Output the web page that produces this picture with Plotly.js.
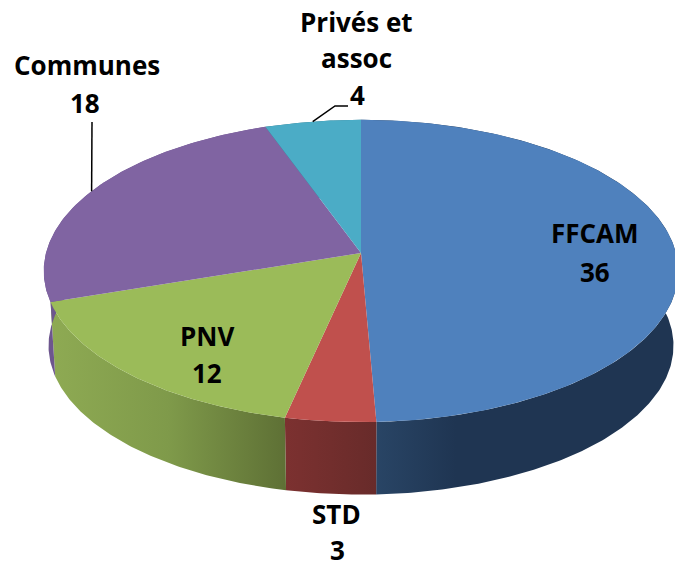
<!DOCTYPE html>
<html>
<head>
<meta charset="utf-8">
<script src="https://cdn.plot.ly/plotly-3.0.0.min.js"></script>
<style>html,body{margin:0;padding:0;background:#fff}#c{width:675px;height:568px}</style>
</head>
<body>
<div id="c"></div>
<script>
// Data, clockwise from 12 o'clock
const categories = ['FFCAM', 'STD', 'PNV', 'Communes', 'Privés et assoc'];
const values = [36, 3, 12, 18, 4];
const nameLines = [['FFCAM'], ['STD'], ['PNV'], ['Communes'], ['Privés et', 'assoc']];

// Colours
const topColors = ['#4F81BD', '#C0504D', '#9BBB59', '#8064A2', '#4BACC6'];
const sideGradients = [
  [[0, '#2B4869'], [0.3, '#1F3552'], [1, '#1F3552']],
  [[0, '#7C3130'], [1, '#682B2A']],
  [[0, '#8EAA53'], [0.5, '#7F9A4A'], [1, '#5E7035']],
  [[0, '#6D568E'], [1, '#6D568E']],
  [[0, '#2F7488'], [1, '#2F7488']]
];

// Projection of the tilted disc
const CX = 361, CY = 253, RX = 315, RY = 149, PERSP = 0.119;
const DEPTH_CY = 328, DEPTH_SCALE = 0.985;
const top3d = a => {
  const s = Math.sin(a), c = Math.cos(a), w = 1 + PERSP * c;
  return [CX + RX * s / w, CY - RY * c / w];
};
const bottom3d = a => {
  const p = top3d(a);
  return [CX + (p[0] - CX) * DEPTH_SCALE, DEPTH_CY + (p[1] - CY) * DEPTH_SCALE];
};

const total = values.reduce((a, b) => a + b, 0);
const slices = [];
let acc = 0;
values.forEach(v => {
  const a0 = acc / total * 2 * Math.PI;
  acc += v;
  slices.push([a0, acc / total * 2 * Math.PI]);
});
const arc = (fn, a0, a1) => {
  const n = Math.max(4, Math.ceil((a1 - a0) / 0.01));
  const out = [];
  for (let i = 0; i <= n; i++) out.push(fn(a0 + (a1 - a0) * i / n));
  return out;
};

const traces = [];
// Side walls first, the top faces cover whatever is behind them
slices.forEach((s, i) => {
  const pts = arc(top3d, s[0], s[1]).concat(arc(bottom3d, s[0], s[1]).reverse());
  traces.push({
    type: 'scatter', mode: 'lines', hoverinfo: 'skip', name: categories[i],
    x: pts.map(p => p[0]), y: pts.map(p => p[1]),
    fill: 'toself', line: {width: 0},
    fillgradient: {type: 'horizontal', colorscale: sideGradients[i]}
  });
});
slices.forEach((s, i) => {
  const pts = [[CX, CY]].concat(arc(top3d, s[0], s[1]));
  pts.push([CX, CY]);
  traces.push({
    type: 'scatter', mode: 'lines', hoverinfo: 'skip', name: categories[i],
    x: pts.map(p => p[0]), y: pts.map(p => p[1]),
    fill: 'toself', fillcolor: topColors[i], line: {width: 0}
  });
});

// Leader lines run from the middle of the slice's outer edge
const mid = i => top3d((slices[i][0] + slices[i][1]) / 2);
const leaders = [
  {i: 3, via: [[92, 122]]},
  {i: 4, via: [[335, 106], [348, 106]]}
];
leaders.forEach(l => {
  const pts = [mid(l.i)].concat(l.via);
  traces.push({
    type: 'scatter', mode: 'lines', hoverinfo: 'skip',
    x: pts.map(p => p[0]), y: pts.map(p => p[1]),
    line: {color: '#000', width: 1.5}
  });
});

// Label lines: each line placed on its own for the wide line spacing
const labelPos = [
  [[595, 233], [595, 272]],
  [[336, 514], [337, 550]],
  [[207, 336], [207, 373]],
  [[87, 65], [85, 103]],
  [[356, 22], [356, 58], [357, 95]]
];
const annotations = [];
values.forEach((v, i) => {
  nameLines[i].concat([String(v)]).forEach((t, j) => {
    annotations.push({
      x: labelPos[i][j][0], y: labelPos[i][j][1], xref: 'x', yref: 'y',
      text: '<b>' + t + '</b>', showarrow: false, xanchor: 'center', yanchor: 'middle',
      font: {family: '"Open Sans", sans-serif', size: 26, color: '#000'}
    });
  });
});

const hidden = {visible: false, fixedrange: true};
Plotly.newPlot('c', traces, {
  width: 675, height: 568,
  margin: {l: 0, r: 0, t: 0, b: 0},
  paper_bgcolor: '#fff', plot_bgcolor: '#fff',
  showlegend: false, hovermode: false,
  xaxis: Object.assign({range: [0, 675]}, hidden),
  yaxis: Object.assign({range: [568, 0]}, hidden),
  annotations: annotations
}, {displayModeBar: false, staticPlot: true});
</script>
</body>
</html>
